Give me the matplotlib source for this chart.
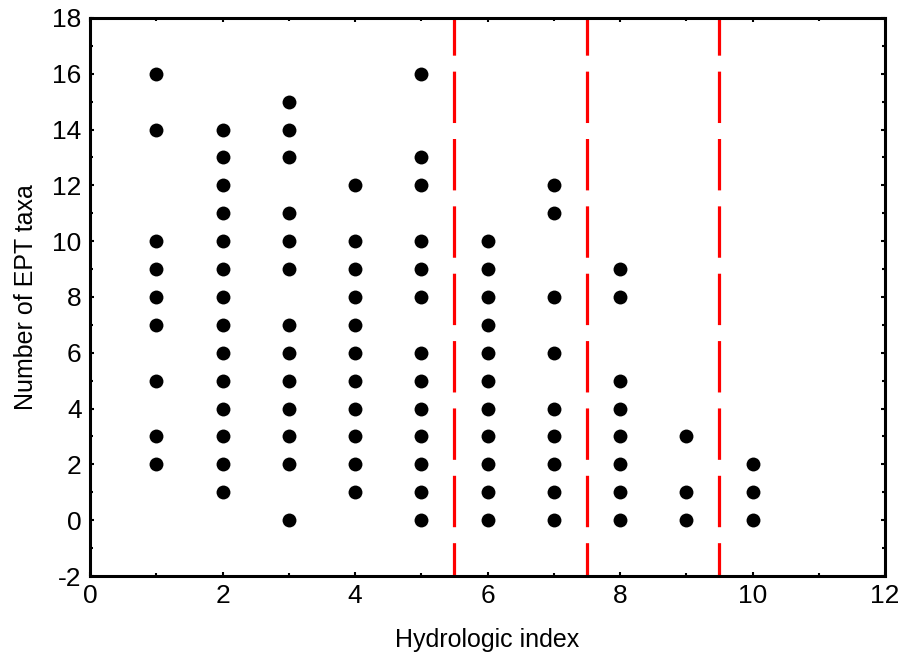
import matplotlib
matplotlib.use("Agg")
from matplotlib import pyplot as plt
from matplotlib.ticker import MultipleLocator

plt.rcParams['font.family'] = ['Liberation Sans', 'DejaVu Sans']
plt.rcParams['lines.scale_dashes'] = False
plt.rcParams['axes.unicode_minus'] = False

# EPT taxa counts observed at each hydrologic index value
ept_1 = [16, 14, 10, 9, 8, 7, 5, 3, 2]
ept_2 = [14, 13, 12, 11, 10, 9, 8, 7, 6, 5, 4, 3, 2, 1]
ept_3 = [15, 14, 13, 11, 10, 9, 7, 6, 5, 4, 3, 2, 0]
ept_4 = [12, 10, 9, 8, 7, 6, 5, 4, 3, 2, 1]
ept_5 = [16, 13, 12, 10, 9, 8, 6, 5, 4, 3, 2, 1, 0]
ept_6 = [10, 9, 8, 7, 6, 5, 4, 3, 2, 1, 0]
ept_7 = [12, 11, 8, 6, 4, 3, 2, 1, 0]
ept_8 = [9, 8, 5, 4, 3, 2, 1, 0]
ept_9 = [3, 1, 0]
ept_10 = [2, 1, 0]

index_values = [1, 2, 3, 4, 5, 6, 7, 8, 9, 10]
ept_columns = [ept_1, ept_2, ept_3, ept_4, ept_5, ept_6, ept_7, ept_8, ept_9, ept_10]

# break points between hydrologic classes
breaks = [5.5, 7.5, 9.5]

xs = []
ys = []
for x, col in zip(index_values, ept_columns):
    for v in col:
        xs.append(x)
        ys.append(v)

fig = plt.figure(figsize=(9.02, 6.64), dpi=100)
ax = fig.add_axes([0.0998, 0.1325, 0.8814, 0.8405])

ax.scatter(xs, ys, s=100, color='black', zorder=3, linewidths=0)

for b in breaks:
    ax.axvline(b, color='#ff0000', linewidth=2.3, linestyle=(13, (37, 11.5)), zorder=2)

ax.set_xlim(0, 12)
ax.set_ylim(-2, 18)
ax.xaxis.set_major_locator(MultipleLocator(2))
ax.xaxis.set_minor_locator(MultipleLocator(1))
ax.yaxis.set_major_locator(MultipleLocator(2))
ax.yaxis.set_minor_locator(MultipleLocator(1))

for side in ['left', 'right', 'top', 'bottom']:
    ax.spines[side].set_linewidth(2.2)

ax.tick_params(which='both', direction='in', top=True, right=True, width=1.5)
ax.tick_params(which='major', length=3, labelsize=19, pad=6)
ax.tick_params(which='minor', length=2)

ax.set_xlabel("Hydrologic index", fontsize=18, labelpad=14)
ax.set_ylabel("Number of EPT taxa", fontsize=18, labelpad=10)

fig.savefig("out.png", dpi=100)
